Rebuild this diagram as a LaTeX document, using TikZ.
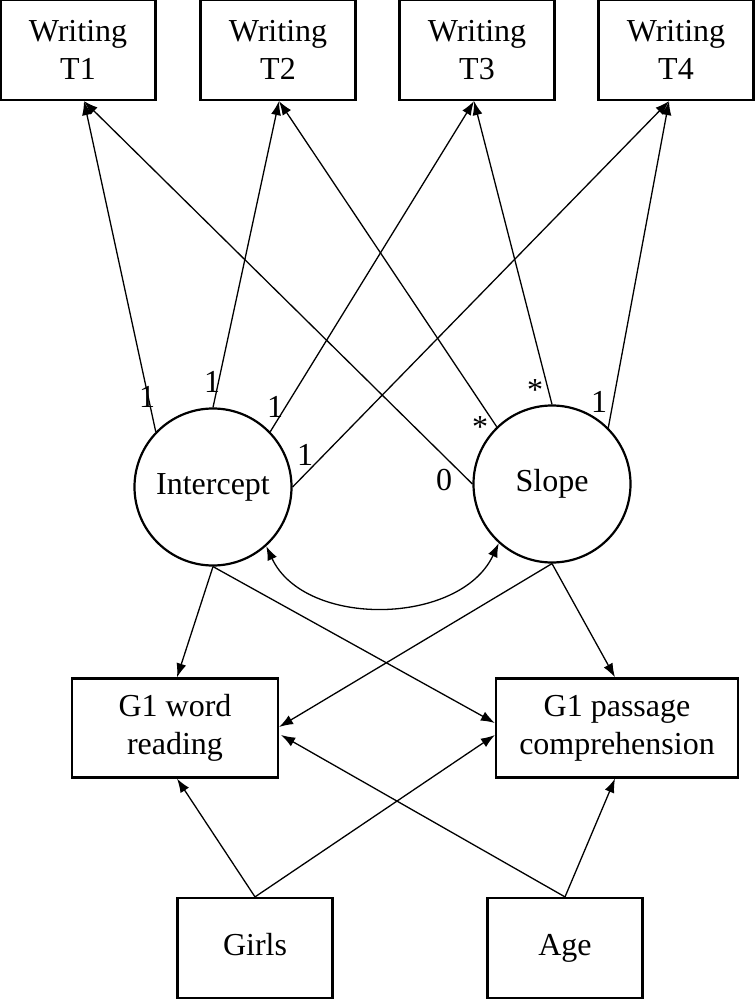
\documentclass[tikz,border=0pt]{standalone}
\usepackage{fontspec}
\setmainfont{Liberation Serif}
\usetikzlibrary{arrows.meta,calc}
\begin{document}
\begin{tikzpicture}[x=1pt,y=-1pt,
  txt/.style={font=\fontsize{32}{38}\selectfont},
  box/.style={draw,line width=2.2pt,txt,align=center,inner sep=0pt},
  one/.style={text height=22pt,text depth=7pt},
  circ/.style={draw,circle,line width=2.2pt,txt,minimum size=157pt,inner sep=0pt},
  arr/.style={line width=1.3pt,-{Latex[length=14pt,width=10pt]}},
  darr/.style={line width=1.3pt,{Latex[length=14pt,width=10pt]}-{Latex[length=14pt,width=10pt]}},
  lab/.style={txt,inner sep=0pt}]
\useasboundingbox (0,0) rectangle (755,1000);
\node[box,minimum width=155pt,minimum height=100pt] (T1) at (78,50) {Writing\\T1};
\node[box,minimum width=155pt,minimum height=100pt] (T2) at (278,50) {Writing\\T2};
\node[box,minimum width=155pt,minimum height=100pt] (T3) at (477,50) {Writing\\T3};
\node[box,minimum width=155pt,minimum height=100pt] (T4) at (676,50) {Writing\\T4};
\node[circ] (I) at (213,487) {Intercept};
\node[circ] (S) at (552,484) {Slope};
\node[box,minimum width=206pt,minimum height=99pt] (W) at (175,728) {G1 word\\reading};
\node[box,minimum width=242pt,minimum height=99pt] (P) at (617,728) {G1 passage\\comprehension};
\node[box,one,minimum width=155pt,minimum height=100pt] (G) at (255,948) {Girls};
\node[box,one,minimum width=155pt,minimum height=100pt] (A) at (565,948) {Age};
\coordinate (t1) at ($(T1.south)+(6,0)$);
\coordinate (t2) at ($(T2.south)+(1,0)$);
\coordinate (t3) at ($(T3.south)+(-3,0)$);
\coordinate (t4) at ($(T4.south)+(-7,0)$);
\draw[arr] (I.136) -- (t1);
\draw[arr] (I.90) -- (t2);
\draw[arr] (I.44) -- (t3);
\draw[arr] (I.0) -- (t4);
\draw[arr] (S.180) -- (t1);
\draw[arr] (S.134) -- (t2);
\draw[arr] (S.90) -- (t3);
\draw[arr] (S.45) -- (t4);
\draw[darr] (I.-48) to[out=-65,in=-115] (S.-132);
\coordinate (wn) at ($(W.north)+(2,0)$);
\coordinate (ws) at ($(W.south)+(2,0)$);
\coordinate (we1) at ($(W.east)+(0,-1)$);
\coordinate (we2) at ($(W.east)+(2,7)$);
\coordinate (pw1) at ($(P.west)+(0,-5)$);
\coordinate (pw2) at ($(P.west)+(0,7)$);
\coordinate (pn) at ($(P.north)+(-2,0)$);
\coordinate (ps) at ($(P.south)+(-2,0)$);
\draw[arr] (I.south) -- (wn);
\draw[arr] (I.south) -- (pw1);
\draw[arr] (S.south) -- (we1);
\draw[arr] (S.south) -- (pn);
\draw[arr] (G.north) -- (ws);
\draw[arr] (G.north) -- (pw2);
\draw[arr] (A.north) -- (ps);
\draw[arr] (A.north) -- (we2);
\node[lab] (l1) at (147,397) {1};
\node[lab] (l2) at (212,382) {1};
\node[lab] (l3) at (275,407) {1};
\node[lab] (l4) at (305,455) {1};
\node[lab] (l5) at (444,480) {0};
\node[lab] (l6) at (480,427) {*};
\node[lab] (l7) at (535,390) {*};
\node[lab] (l8) at (599,402) {1};
\end{tikzpicture}
\end{document}
